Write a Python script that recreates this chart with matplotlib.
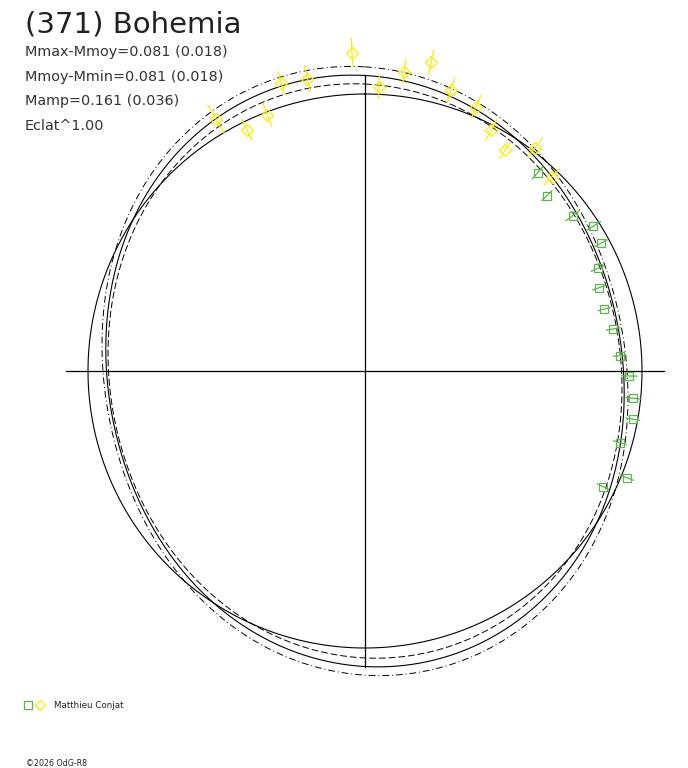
import numpy as np
import matplotlib
matplotlib.use("Agg")
import matplotlib.pyplot as plt

# polar lightcurve of (371) Bohemia, radius = relative flux, angle = rotation phase
title = "(371) Bohemia"
info_lines = ["Mmax-Mmoy=0.081 (0.018)",
              "Mmoy-Mmin=0.081 (0.018)",
              "Mamp=0.161 (0.036)",
              "Eclat^1.00"]
observer = "Matthieu Conjat"
footer = "\u00a92026 OdG-R8"

# session 1 (yellow diamonds)
yellow_phase = [0.915, 0.9275, 0.942, 0.955, 0.969, 0.9935, 0.0078, 0.0208,
                0.0336, 0.0472, 0.0633, 0.0767, 0.090, 0.1036, 0.122]
yellow_flux = [1.056, 0.969, 0.989, 1.082, 1.076, 1.150, 1.025, 1.090,
               1.140, 1.061, 1.035, 0.982, 0.944, 1.014, 0.973]
yellow_err = [0.058, 0.041, 0.044, 0.043, 0.047, 0.051, 0.039, 0.044,
              0.043, 0.047, 0.044, 0.043, 0.035, 0.043, 0.040]

# session 2 (green squares)
green_phase = [0.114, 0.1279, 0.1478, 0.160, 0.171, 0.1839, 0.1956, 0.2097,
               0.2233, 0.2406, 0.253, 0.2661, 0.2783, 0.2936, 0.3116, 0.322]
green_flux = [0.949, 0.912, 0.936, 0.977, 0.969, 0.918, 0.898, 0.892,
              0.909, 0.922, 0.954, 0.974, 0.982, 0.956, 1.020, 0.955]
green_err = [0.029, 0.025, 0.030, 0.030, 0.025, 0.025, 0.025, 0.022,
             0.025, 0.024, 0.027, 0.026, 0.025, 0.024, 0.025, 0.022]

# fitted curves: mean, 2nd harmonic amplitude, phase of maximum
fit_mean, fit_amp, fit_p0 = 1.000, 0.073, -0.033
upper_mean, upper_amp = 1.022, 0.083
lower_mean, lower_amp = 0.981, 0.060

YELLOW = '#fbef00'
GREEN = '#5cb54a'


def to_xy(phase, r):
    a = np.radians(90.0 - 360.0 * np.asarray(phase))
    return np.asarray(r) * np.cos(a), np.asarray(r) * np.sin(a)


def harm2(p, mean, amp):
    return mean + amp * np.cos(4 * np.pi * (p - fit_p0))


W, H = 688, 768
SCALE = 277.0   # pixels per flux unit
CX, CY = 365, 371

fig = plt.figure(figsize=(W / 100, H / 100), dpi=100)
ax = fig.add_axes([0, 0, 1, 1])
ax.set_xlim(-CX / SCALE, (W - CX) / SCALE)
ax.set_ylim(-(H - CY) / SCALE, CY / SCALE)
ax.axis('off')

# axes cross
ax.plot([-1.079, 1.079], [0, 0], color='black', lw=0.9)
ax.plot([0, 0], [-1.069, 1.069], color='black', lw=0.9)

p = np.linspace(0, 1, 721)
x, y = to_xy(p, np.ones_like(p))
ax.plot(x, y, color='black', lw=0.8)
x, y = to_xy(p, harm2(p, fit_mean, fit_amp))
ax.plot(x, y, color='black', lw=0.8)
x, y = to_xy(p, harm2(p, upper_mean, upper_amp))
ax.plot(x, y, color='black', lw=0.7, dashes=[7, 3, 1, 3])
x, y = to_xy(p, harm2(p, lower_mean, lower_amp))
ax.plot(x, y, color='black', lw=0.7, dashes=[7, 3])

# radial error bars + markers
for ph, fl, er, col, mk, ms in [(yellow_phase, yellow_flux, yellow_err, YELLOW, 'D', 6.2),
                                (green_phase, green_flux, green_err, GREEN, 's', 5.8)]:
    for a, r, e in zip(ph, fl, er):
        ex, ey = to_xy([a, a], [r - e, r + e])
        ax.plot(ex, ey, color=col, lw=0.9)
    mx, my = to_xy(ph, fl)
    ax.plot(mx, my, linestyle='none', marker=mk, ms=ms, mfc='none',
            mec=col, mew=0.9)

# texts
fig.text(25 / W, 1 - 32.5 / H, title, fontsize=21, color='#222222',
         family='DejaVu Sans', va='baseline')
for i, line in enumerate(info_lines):
    fig.text(25 / W, 1 - (55.7 + 24.8 * i) / H, line, fontsize=10.4,
             color='#333333', family='DejaVu Sans', va='baseline')

# legend
fig.add_artist(plt.Line2D([27.8 / W], [1 - 705.3 / H], marker='s', ms=5.5,
                          mfc='none', mec=GREEN, mew=0.9, linestyle='none'))
fig.add_artist(plt.Line2D([40 / W], [1 - 704.5 / H], marker='D', ms=5.3,
                          mfc='none', mec=YELLOW, mew=0.9, linestyle='none'))
fig.text(53.5 / W, 1 - 705.5 / H, observer, fontsize=6.3, color='#222222',
         family='DejaVu Sans', va='center')
fig.text(26 / W, 1 - 763 / H, footer, fontsize=5.7, color='#222222',
         family='DejaVu Sans', va='center')

fig.savefig('out.png', dpi=100, facecolor='white')
